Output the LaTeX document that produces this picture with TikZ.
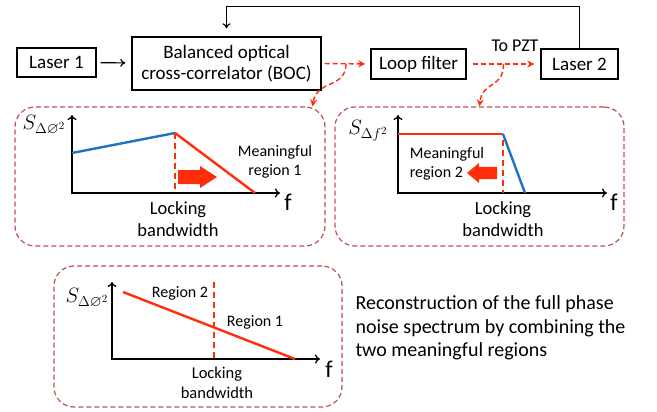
\documentclass[tikz,border=0pt]{standalone}
\usepackage{amsmath,amssymb}
\usepackage{fontspec}
\setmainfont{Carlito}
\usepackage{tikz}
\usetikzlibrary{positioning}
\usetikzlibrary{arrows.meta}
\usepackage{xcolor}
\definecolor{sigred}{RGB}{255,45,10}
\definecolor{sigblue}{RGB}{30,115,190}
\definecolor{panelred}{RGB}{192,80,77}

\tikzset{
  block/.style={draw, line width=1.4pt, inner sep=0pt, align=center, font=\fontsize{19}{21}\selectfont},
  panel/.style={draw=panelred, dashed, dash pattern=on 5pt off 3pt, line width=1.2pt, rounded corners=20pt, inner sep=0pt},
  feed/.style={->, >={To[length=5pt,width=8pt]}, line width=1.2pt},
  sigpath/.style={->, >={Stealth[length=7pt,width=7pt]}, sigred, dashed, dash pattern=on 5pt off 3pt, line width=1.4pt},
  axis/.style={<->, >={To[length=5pt,width=9pt]}, line width=1.3pt},
  curve/.style={line width=2.4pt},
  lbl/.style={align=center, font=\fontsize{18.5}{22}\selectfont},
  ylbl/.style={font=\fontsize{22}{24}\selectfont},
  flbl/.style={font=\fontsize{24}{26}\selectfont}
}

\begin{document}
\begin{tikzpicture}[x=1pt,y=-1pt]
\useasboundingbox (0,0) rectangle (657,412);

% top row
\node[block, minimum width=79pt, minimum height=29pt] (laser1) at (56.5,62.5) {Laser 1};
\node[block, minimum width=189pt, minimum height=53pt] (boc) at (226.5,63.5) {Balanced optical\\cross-correlator (BOC)};
\node[block, minimum width=95pt, minimum height=30pt] (loop) at (418.5,64) {Loop filter};
\node[block, minimum width=77pt, minimum height=30pt] (laser2) at (579.5,64) {Laser 2};
\node[font=\fontsize{18}{20}\selectfont] (pzt) at (515,46) {To PZT};

\draw[feed, shorten <=4pt, shorten >=6pt] (laser1) -- (boc);
\draw[feed, shorten >=8pt] (laser2.north) -- ++(0,-42) -| (boc.north);
\draw[sigpath, shorten <=3pt, shorten >=5pt] (boc.east) -- coordinate[midway] (tap1) (loop.west);
\draw[sigpath, shorten <=6pt, shorten >=6pt] (loop.east) -- coordinate[midway] (tap2) (laser2.west);

% panels
\node[panel, minimum width=310pt, minimum height=139pt] (p1) at (170,176.5) {};
\node[panel, minimum width=289pt, minimum height=139pt] (p2) at (479.5,176.5) {};
\node[panel, minimum width=288pt, minimum height=141pt] (p3) at (198,336.5) {};
\coordinate (p1tip) at ([xshift=-13pt]p1.north east);

\draw[sigpath] (tap1) .. controls +(0,25) and +(4,-27) .. (p1tip);
\draw[sigpath] (tap2) .. controls +(0,25) and +(3,-26) .. (p2.north);

% panel 1
\draw[axis] (72,115) |- (280,193);
\draw[curve, sigblue] (72,153) -- (175,133);
\draw[curve, sigred] (175,133) -- (255,193);
\draw[sigred, dashed, dash pattern=on 6pt off 4pt, line width=1.6pt] (175,133) -- (175,193);
\fill[sigred] (178,170) -- (200,170) -- (200,166) -- (217,177) -- (200,188) -- (200,184) -- (178,184) -- cycle;
\node[ylbl] (s1) at (44,125) {$S_{\Delta\varnothing^2}$};
\node[flbl] (f1) at (288,202) {f};
\node[lbl] (lb1) at (178,219) {Locking\\bandwidth};
\node[lbl, font=\fontsize{16}{19}\selectfont] (m1) at (275,162) {Meaningful\\region 1};

% panel 2
\draw[axis] (398,115) |- (607,193);
\draw[curve, sigred] (398,134) -- (503,134);
\draw[curve, sigblue] (503,134) -- (525,193);
\draw[sigred, dashed, dash pattern=on 6pt off 4pt, line width=1.6pt] (503,140) -- (503,193);
\fill[sigred] (497,167) -- (479,167) -- (479,163) -- (467,173) -- (479,183) -- (479,179) -- (497,179) -- cycle;
\node[ylbl] (s2) at (368,131) {$S_{\Delta f^2}$};
\node[flbl] (f2) at (614,202) {f};
\node[lbl] (lb2) at (503,219) {Locking\\bandwidth};
\node[lbl, align=left, font=\fontsize{16}{19}\selectfont] (m2) at (447,164) {Meaningful\\region 2};

% panel 3
\draw[axis] (112,282) |- (320,359);
\draw[curve, sigred] (123,292) -- (295,359);
\draw[sigred, dashed, dash pattern=on 6pt off 4pt, line width=1.6pt] (214,282) -- (214,359);
\node[ylbl] (s3) at (87,298) {$S_{\Delta\varnothing^2}$};
\node[flbl] (f3) at (329,369) {f};
\node[lbl, font=\fontsize{16.5}{20}\selectfont] (lb3) at (217,383) {Locking\\bandwidth};
\node[font=\fontsize{16}{18}\selectfont] (r2) at (180,293) {Region 2};
\node[font=\fontsize{16}{18}\selectfont] (r1) at (255,322) {Region 1};

\node[anchor=west, align=left, font=\fontsize{20}{23.5}\selectfont] (recon) at (352,328) {Reconstruction of the full phase\\noise spectrum by combining the\\two meaningful regions};
\end{tikzpicture}
\end{document}
